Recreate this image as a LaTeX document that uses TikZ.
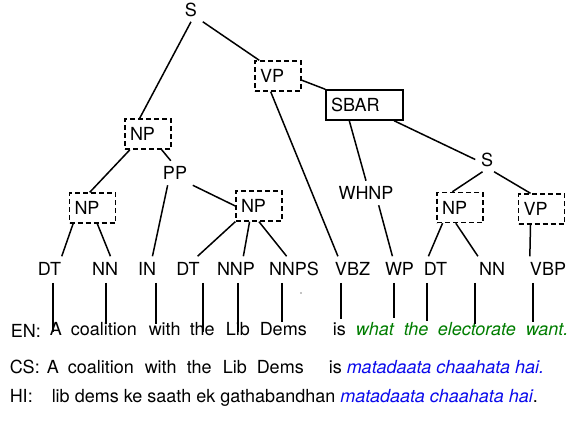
\documentclass[tikz,border=0pt]{standalone}
\usepackage{fontspec}
\setmainfont{TeX Gyre Heros}
\definecolor{engreen}{RGB}{0,125,0}
\definecolor{hiblue}{RGB}{10,10,235}

\begin{document}
\begin{tikzpicture}[
    x=1pt, y=-1pt,
    line width=1.5pt,
    font=\fontsize{18}{21}\selectfont,
    tag/.style={
        inner sep=5pt,
        text height=13pt,
        text depth=0pt
    },
    phrase/.style={
        draw,
        dash pattern=on 5pt off 3pt,
        line width=1.4pt,
        text width=36pt,
        inner xsep=5pt,
        inner ysep=0pt,
        minimum height=30pt,
        text height=13pt,
        text depth=0pt,
        align=left
    },
    word/.style={
        anchor=base west,
        inner sep=0pt,
        text height=12pt
    },
    green word/.style={
        word,
        text=engreen,
        font=\fontsize{18}{21}\selectfont\itshape
    }
]

\useasboundingbox (0,0) rectangle (570,440);

\node[tag] (s1) at (191,9.5) {S};
\node[phrase] (vp1) at (278,76) {VP};
\node[phrase, solid, line width=1.5pt, text width=67pt] (sbar) at (364.5,105) {SBAR};
\node[tag] (s2) at (487,159.5) {S};
\node[tag] (whnp) at (366,193) {WHNP};
\node[phrase] (np4) at (460,207.5) {NP};
\node[phrase] (vp2) at (541.5,209) {VP};
\node[phrase] (np1) at (148,134) {NP};
\node[tag] (pp) at (175,173) {PP};
\node[phrase] (np2) at (92.5,208) {NP};
\node[phrase] (np3) at (259,206) {NP};

\node[tag] (dt1) at (49.5,268.5) {DT};
\node[tag] (nn1) at (105,268.5) {NN};
\node[tag] (in1) at (147,268.5) {IN};
\node[tag] (dt2) at (188,268.5) {DT};
\node[tag] (nnp) at (236,268.5) {NNP};
\node[tag] (nnps) at (294,268.5) {NNPS};
\node[tag] (vbz) at (352.5,268.5) {VBZ};
\node[tag] (wp) at (399.5,268.5) {WP};
\node[tag] (dt3) at (435.5,268.5) {DT};
\node[tag] (nn2) at (492,268.5) {NN};
\node[tag] (vbp) at (548,268.5) {VBP};

\draw (s1.south) -- (np1.118);
\draw (s1.south east) -- (vp1.140);
\draw (vp1.-10) -- (sbar.north west);
\draw (vp1.245) -- (vbz.140);
\draw (sbar.226) -- (whnp.north);
\draw (sbar.-28) -- (s2.west);
\draw (s2.250) -- (np4.116);
\draw (s2.-60) -- (vp2.125);
\draw (whnp.-44) -- (wp.120);
\draw (np4.222) -- (dt3.120);
\draw (np4.255) -- (nn2.139);
\draw (vp2.235) -- (vbp.146);
\draw (np1.221) -- (np2.100);
\draw (np1.-49) -- (pp.109);
\draw (pp.239) -- (in1.66);
\draw (pp.south east) -- (np3.west);
\draw (np2.219) -- (dt1.45);
\draw (np2.-73) -- (nn1.66);
\draw (np3.south west) -- (dt2.52);
\draw (np3.239) -- (nnp.59);
\draw (np3.south) -- (nnps.121);

\fill (301,293) circle (0.7pt);

\node[word] (en) at (10,337) {EN:};
\node[word] (wA) at (49,335) {A};
\node[word] (wcoal) at (70,335) {coalition};
\node[word] (wwith) at (148,335) {with};
\node[word] (wthe) at (189,335) {the};
\node[word] (wlib) at (225,335) {Lib};
\node[word] (wdems) at (259,335) {Dems};
\node[word] (wis) at (332,335) {is};
\node[green word] (wwhat) at (355,335) {what};
\node[green word] (wthee) at (403,335) {the};
\node[green word] (welect) at (437,335) {electorate};
\node[green word] (wwant) at (525,335) {want.};

\node[word] (cs) at (9,373) {CS:};
\node[word] (cA) at (46,373) {A};
\node[word] (ccoal) at (67,373) {coalition};
\node[word] (cwith) at (144,373) {with};
\node[word] (cthe) at (186,373) {the};
\node[word] (clib) at (222,373) {Lib};
\node[word] (cdems) at (256,373) {Dems};
\node[word] (cis) at (328,373) {is {\color{hiblue}\itshape matadaata chaahata hai.}};

\node[word] (hi) at (9,402) {HI:};
\node[word] (hlib) at (51,402) {lib dems ke saath ek gathabandhan {\color{hiblue}\itshape matadaata chaahata hai}.};

\foreach \t/\x/\w/\e in {dt1/53/wA/-10pt, nn1/106/wcoal/-2pt, in1/156/wwith/-2pt,
    dt2/203/wthe/-10pt, nnp/238/wlib/-10pt, nnps/282/wdems/0pt, vbz/341/wis/3pt,
    wp/394/wwhat/4pt, dt3/427/wthee/1pt, nn2/475/welect/-2pt, vbp/533/wwant/0pt}
    \draw[shorten <=2pt, shorten >=\e] (\t.south -| \x,0) -- (\w.north -| \x,0);

\end{tikzpicture}
\end{document}
